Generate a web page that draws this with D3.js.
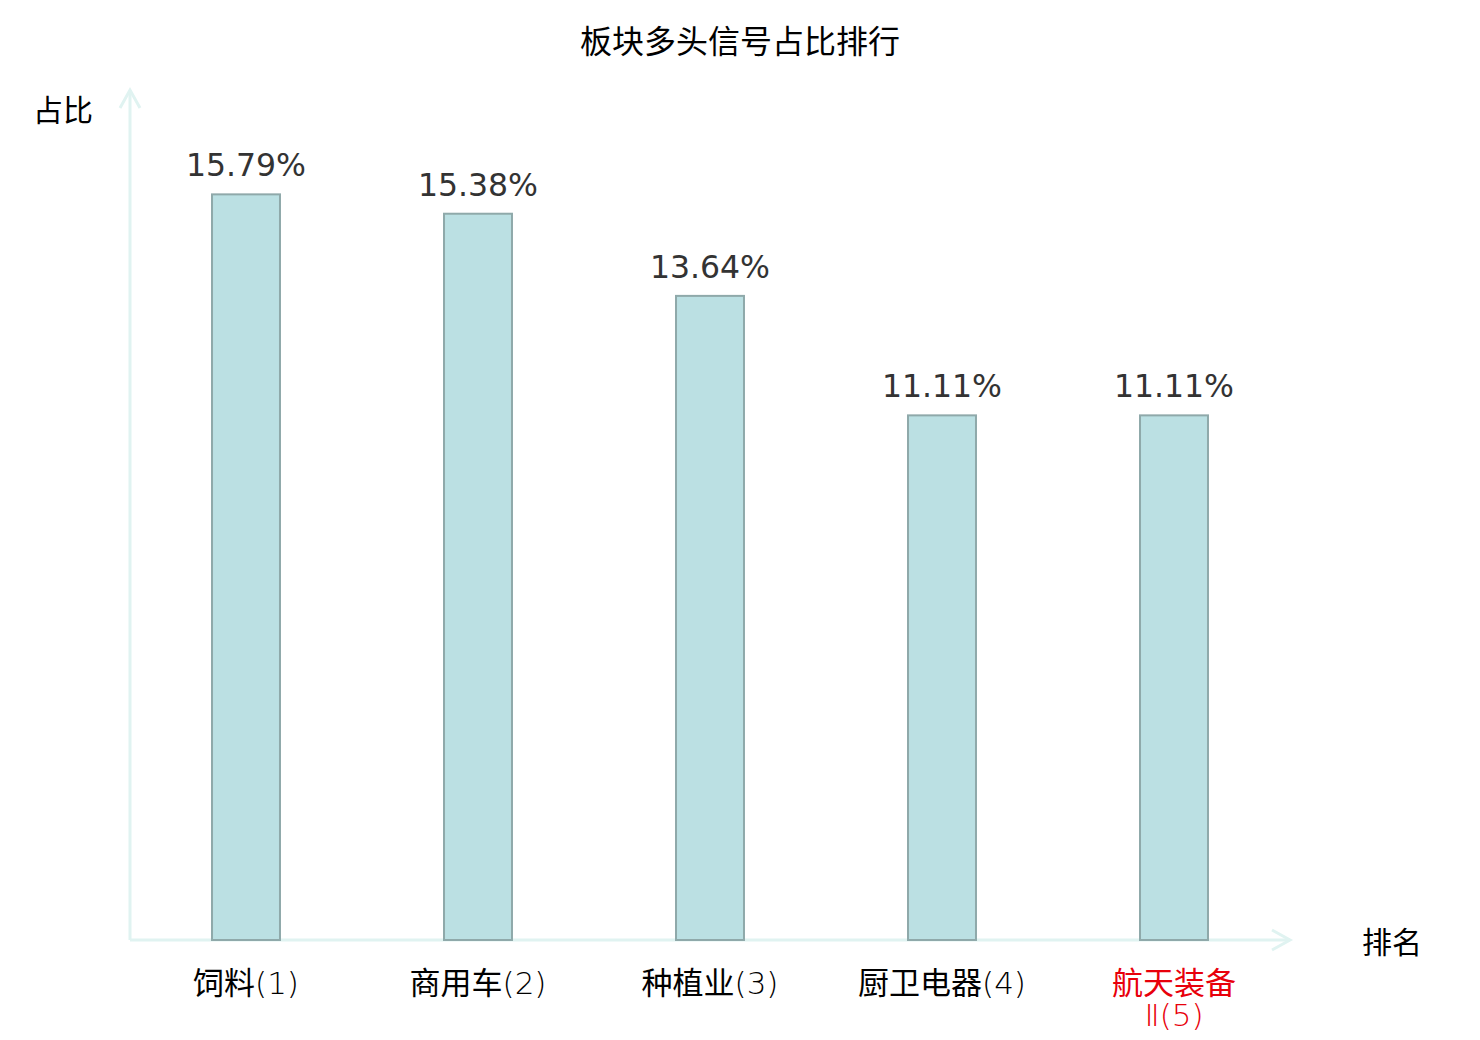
<!DOCTYPE html>
<html>
<head>
<meta charset="utf-8">
<script src="https://cdn.jsdelivr.net/npm/d3@7"></script>
<style>
  body { margin: 0; background: #fff; }
  svg { display: block; }
</style>
</head>
<body>
<svg></svg>
<script>
let categories = ['饲料(1)', '商用车(2)', '种植业(3)', '厨卫电器(4)', '航天装备Ⅱ(5)']
let values = [15.79, 15.38, 13.64, 11.11, 11.11]
let valueLabels = ['15.79%', '15.38%', '13.64%', '11.11%', '11.11%']
let highlighted = [false, false, false, false, true]

let width = 1480
let height = 1040
let origin = { x: 130, y: 940 }
let axisEnd = { x: 1290, y: 90 }
let axisColor = '#e0f3f1'
let cjk = '"Noto Sans CJK SC", "Noto Sans", sans-serif'

let svg = d3.select('svg').attr('width', width).attr('height', height)

let xScale = d3.scaleBand()
    .domain(categories)
    .range([origin.x, axisEnd.x])
    .paddingInner(0.707)
    .paddingOuter(0.3535)

let yScale = d3.scaleLinear()
    .domain([0, 18])
    .range([origin.y, axisEnd.y])

// title
svg.append('text')
    .attr('x', 740)
    .attr('y', 53)
    .attr('text-anchor', 'middle')
    .style('font-family', cjk)
    .style('font-size', '32px')
    .style('fill', '#000')
    .text('板块多头信号占比排行')

// axes
let axes = svg.append('g')
    .attr('fill', 'none')
    .attr('stroke', axisColor)
    .attr('stroke-width', 3)
axes.append('line')
    .attr('x1', origin.x).attr('y1', origin.y)
    .attr('x2', origin.x).attr('y2', axisEnd.y)
axes.append('line')
    .attr('x1', origin.x).attr('y1', origin.y)
    .attr('x2', axisEnd.x).attr('y2', origin.y)
axes.append('path')
    .attr('d', `M${origin.x - 10},${axisEnd.y + 18}L${origin.x},${axisEnd.y}L${origin.x + 10},${axisEnd.y + 18}`)
axes.append('path')
    .attr('d', `M${axisEnd.x - 18},${origin.y - 10}L${axisEnd.x},${origin.y}L${axisEnd.x - 18},${origin.y + 10}`)

// axis names
svg.append('text')
    .attr('x', 63).attr('y', 121)
    .attr('text-anchor', 'middle')
    .style('font-family', cjk).style('font-size', '30px')
    .text('占比')
svg.append('text')
    .attr('x', 1392).attr('y', 953)
    .attr('text-anchor', 'middle')
    .style('font-family', cjk).style('font-size', '30px')
    .text('排名')

// bars
svg.selectAll('rect.bar')
    .data(values)
    .enter()
    .append('rect')
    .attr('class', 'bar')
    .attr('x', (d, i) => xScale(categories[i]))
    .attr('y', (d) => yScale(d))
    .attr('width', xScale.bandwidth())
    .attr('height', (d) => yScale(0) - yScale(d))
    .attr('fill', '#bbe0e3')
    .attr('stroke', '#8fa9aa')
    .attr('stroke-width', 2)

// value labels
svg.selectAll('text.value')
    .data(values)
    .enter()
    .append('text')
    .attr('class', 'value')
    .attr('x', (d, i) => xScale(categories[i]) + xScale.bandwidth() / 2)
    .attr('y', (d) => yScale(d) - 18)
    .attr('text-anchor', 'middle')
    .style('font-family', '"DejaVu Sans", sans-serif')
    .style('font-size', '31.5px')
    .style('fill', '#333')
    .text((d, i) => valueLabels[i])

// category labels: wrap after 4 chars when too long, latin parts in a thin face
let catLines = (name) => name.length > 7 ? [name.slice(0, 4), name.slice(4)] : [name]
let runs = (line) => line.match(/[\u4e00-\u9fff]+|[^\u4e00-\u9fff]+/g)
svg.selectAll('text.cat')
    .data(categories)
    .enter()
    .append('text')
    .attr('class', 'cat')
    .attr('text-anchor', 'middle')
    .style('font-size', '31px')
    .style('fill', (d, i) => highlighted[i] ? '#e8000b' : '#000')
    .each(function (d) {
        let t = d3.select(this)
        let cx = xScale(d) + xScale.bandwidth() / 2
        catLines(d).forEach((line, j) => {
            runs(line).forEach((r, k) => {
                let isCjk = /[\u4e00-\u9fff]/.test(r)
                let ts = t.append('tspan')
                    .style('font-family', isCjk ? cjk : '"DejaVu Sans", sans-serif')
                    .style('font-weight', isCjk ? 400 : 200)
                    .text(r)
                if (k === 0) ts.attr('x', cx).attr('y', 994 + j * 32)
            })
        })
    })
</script>
</body>
</html>
